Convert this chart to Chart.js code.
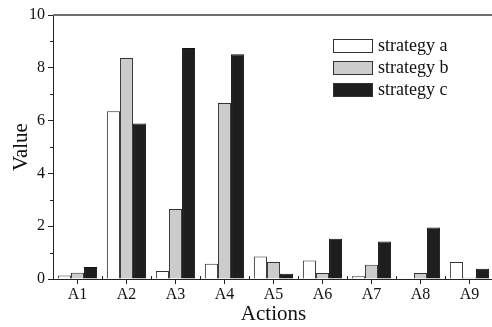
<!DOCTYPE html>
<html>
<head>
<meta charset="utf-8">
<script src="https://cdn.jsdelivr.net/npm/chart.js@4/dist/chart.umd.min.js"></script>
<style>
html,body{margin:0;padding:0;background:#fff;overflow:hidden;}
#wrap{width:494px;height:327px;position:relative;}
</style>
</head>
<body>
<div id="wrap"><canvas id="c"></canvas></div>
<script>
var actions = ['A1','A2','A3','A4','A5','A6','A7','A8','A9'];
var strategyA = [0.13, 6.35, 0.30, 0.58, 0.85, 0.70, 0.10, 0.02, 0.64];
var strategyB = [0.24, 8.37, 2.65, 6.67, 0.64, 0.23, 0.54, 0.23, 0.05];
var strategyC = [0.45, 5.89, 8.75, 8.51, 0.20, 1.52, 1.42, 1.95, 0.39];
var seriesNames = ['strategy a','strategy b','strategy c'];
var yTicks = [0, 2, 4, 6, 8, 10];

var serif = "'Liberation Serif','Times New Roman',serif";

// extra ticks, top frame line and the boxed legend
var decor = {
	id: 'decor',
	afterDraw: function(chart){
		var ctx = chart.ctx, ca = chart.chartArea;
		var ys = chart.scales.y;
		ctx.save();
		// top frame
		ctx.strokeStyle = '#6e6e6e';
		ctx.lineWidth = 2;
		ctx.beginPath();
		ctx.moveTo(ca.left, ca.top);
		ctx.lineTo(ca.right + 2, ca.top);
		ctx.stroke();
		// inward ticks between categories
		ctx.strokeStyle = '#222';
		ctx.lineWidth = 1;
		var step = (ca.right - ca.left) / actions.length;
		for(var i=1;i<actions.length;++i){
			var x = Math.round(ca.left + i*step) + 0.5;
			ctx.beginPath();
			ctx.moveTo(x, ca.bottom);
			ctx.lineTo(x, ca.bottom - 3);
			ctx.stroke();
		}
		// minor y ticks
		for(var v=1;v<10;v+=2){
			var y = Math.round(ys.getPixelForValue(v)) + 0.5;
			ctx.beginPath();
			ctx.moveTo(ca.left, y);
			ctx.lineTo(ca.left - 3, y);
			ctx.stroke();
		}
		// legend
		var ds = chart.data.datasets;
		ctx.font = '18px ' + serif;
		ctx.textBaseline = 'middle';
		for(var k=0;k<ds.length;++k){
			var by = 39 + k*22;
			ctx.fillStyle = ds[k].backgroundColor;
			ctx.fillRect(333, by, 40, 14);
			ctx.strokeStyle = '#333';
			ctx.lineWidth = 1;
			ctx.strokeRect(333.5, by + 0.5, 39, 13);
			ctx.fillStyle = '#111';
			ctx.fillText(ds[k].label, 378, by + 7);
		}
		ctx.restore();
	}
};

new Chart(document.getElementById('c').getContext('2d'), {
	type: 'bar',
	data: {
		labels: actions,
		datasets: [
			{label: seriesNames[0], data: strategyA, backgroundColor: '#ffffff', borderColor: '#333', borderWidth: 1},
			{label: seriesNames[1], data: strategyB, backgroundColor: '#cccccc', borderColor: '#333', borderWidth: 1},
			{label: seriesNames[2], data: strategyC, backgroundColor: '#1e1e1e', borderColor: '#111', borderWidth: 1}
		]
	},
	options: {
		responsive: true,
		maintainAspectRatio: false,
		animation: false,
		layout: {padding: {top: 15, right: 0, left: 0, bottom: 0}},
		plugins: {
			legend: {display: false},
			tooltip: {enabled: false}
		},
		datasets: {bar: {categoryPercentage: 0.8, barPercentage: 1.0}},
		scales: {
			x: {
				grid: {display: true, drawOnChartArea: false, offset: false, tickLength: 5, color: '#222'},
				border: {color: '#222', width: 1},
				ticks: {color: '#111', font: {family: serif, size: 16}, padding: 1, maxRotation: 0},
				title: {display: true, text: 'Actions', color: '#111', font: {family: serif, size: 21}, padding: {top: 0, bottom: 0}},
				afterFit: function(s){ s.height = 48; }
			},
			y: {
				min: 0, max: 10,
				afterBuildTicks: function(s){ s.ticks = yTicks.map(function(v){ return {value: v}; }); },
				grid: {display: true, drawOnChartArea: false, tickLength: 5, color: '#222'},
				border: {color: '#222', width: 1},
				ticks: {color: '#111', font: {family: serif, size: 16}, padding: 3},
				title: {display: true, text: 'Value', color: '#111', font: {family: serif, size: 21}, padding: {top: 9, bottom: 0}},
				afterFit: function(s){ s.width = 53; }
			}
		}
	},
	plugins: [decor]
});
</script>
</body>
</html>
